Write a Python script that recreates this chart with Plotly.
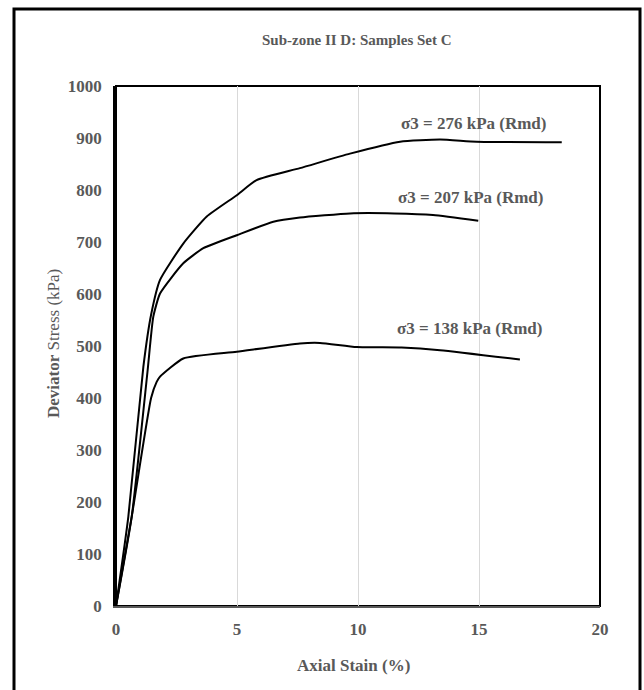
import plotly.graph_objects as go

# Triaxial test curves: axial strain (%) vs deviator stress (kPa)
strain_276 = [0, 0.51, 1.13, 1.45, 1.82, 2.78, 3.75, 4.99, 5.81, 7.60, 9.67, 11.74, 13.39, 14.9, 18.42]
stress_276 = [0, 172, 460, 560, 627, 697, 749, 790, 819, 842, 870, 893, 897, 893, 892]

strain_207 = [0, 0.65, 1.3, 1.54, 1.82, 2.78, 3.61, 4.99, 6.5, 7.60, 9.67, 11.5, 13.1, 14.97]
stress_207 = [0, 172, 450, 556, 601, 659, 688, 713, 739, 747, 755, 755, 752, 741]

strain_138 = [0, 0.65, 1.45, 1.68, 1.82, 2.78, 4.99, 7.60, 8.43, 9.95, 11.8, 13.39, 16.69]
stress_138 = [0, 172, 400, 431, 441, 476, 489, 505, 506, 498, 497, 492, 474]

series = [
    ("σ3 = 276 kPa (Rmd)", strain_276, stress_276, 14.79, 927),
    ("σ3 = 207 kPa (Rmd)", strain_207, stress_207, 14.67, 785),
    ("σ3 = 138 kPa (Rmd)", strain_138, stress_138, 14.63, 533),
]

x_ticks = [0, 5, 10, 15, 20]
y_ticks = [0, 100, 200, 300, 400, 500, 600, 700, 800, 900, 1000]

FONT = "Liberation Serif"
GREY = "#595959"

fig = go.Figure()
for name, xs, ys, lx, ly in series:
    fig.add_trace(go.Scatter(
        x=xs, y=ys, mode="lines", name=name,
        line=dict(color="black", width=2, shape="spline", smoothing=0.5),
        showlegend=False, hoverinfo="skip",
    ))
    fig.add_annotation(x=lx, y=ly, xref="x", yref="y", text="<b>" + name + "</b>",
                       showarrow=False, xanchor="center", yanchor="middle",
                       font=dict(family=FONT, size=17, color=GREY))

L, R, T, B = 116, 44, 86, 84
W, H = 644, 690
pw, ph = W - L - R, H - T - B

def px(x):
    return (x - L) / pw

def py(y):
    return (H - B - y) / ph

# chart title and axis titles
fig.add_annotation(x=px(357), y=py(40), xref="paper", yref="paper",
                   text="<b>Sub-zone II D: Samples Set C</b>", showarrow=False,
                   xanchor="center", yanchor="middle",
                   font=dict(family=FONT, size=15, color=GREY))
fig.add_annotation(x=px(353), y=py(665), xref="paper", yref="paper",
                   text="<b>Axial Stain (%)</b>", showarrow=False,
                   xanchor="center", yanchor="middle",
                   font=dict(family=FONT, size=17, color=GREY))
fig.add_annotation(x=px(53), y=py(343), xref="paper", yref="paper",
                   text="<b>Deviator</b> Stress (kPa)", showarrow=False, textangle=-90,
                   xanchor="center", yanchor="middle",
                   font=dict(family=FONT, size=17, color=GREY))

# plot-area box and outer chart frame
fig.add_shape(type="rect", xref="paper", yref="paper", x0=0, x1=1, y0=0, y1=1,
              line=dict(color="black", width=2), layer="below")
fig.add_shape(type="rect", xref="paper", yref="paper",
              x0=px(14), x1=px(640), y0=py(693), y1=py(9),
              line=dict(color="black", width=3))

fig.update_layout(
    width=W, height=H,
    margin=dict(l=L, r=R, t=T, b=B),
    paper_bgcolor="white", plot_bgcolor="white",
    font=dict(family=FONT, color=GREY),
)
fig.update_xaxes(
    range=[0, 20], tickvals=x_ticks, showgrid=True, gridcolor="#d9d9d9", gridwidth=1,
    zeroline=False, showline=True, linecolor=GREY, linewidth=2,
    ticks="outside", ticklen=0, ticklabelstandoff=7,
    tickfont=dict(family=FONT, size=17, color=GREY, weight="bold"),
)
fig.update_yaxes(
    range=[0, 1000], tickvals=y_ticks, showgrid=False, zeroline=False,
    showline=True, linecolor="black", linewidth=2.5,
    ticks="outside", ticklen=0, ticklabelstandoff=8,
    tickfont=dict(family=FONT, size=17, color=GREY, weight="bold"),
)

fig.write_html("out.html")
